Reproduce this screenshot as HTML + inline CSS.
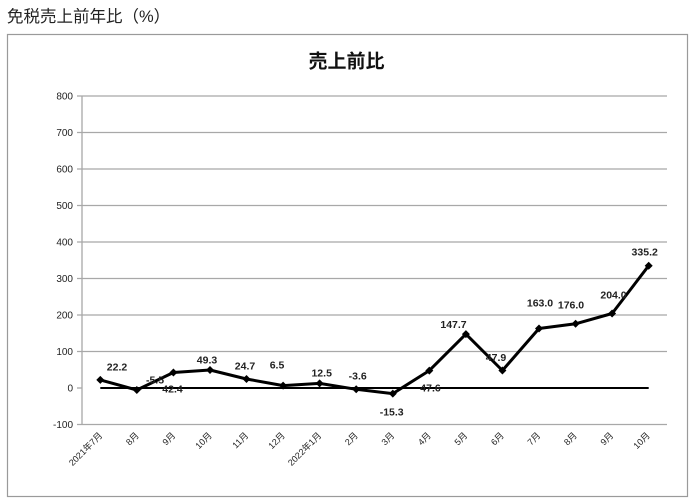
<!DOCTYPE html>
<html>
<head>
<meta charset="utf-8">
<style>
  html,body{margin:0;padding:0;background:#fff;}
  body{width:695px;height:501px;overflow:hidden;position:relative;}
  .hdr{position:absolute;left:7px;top:3px;font-family:"Liberation Sans","Noto Sans CJK JP",sans-serif;font-size:16.5px;color:#222;white-space:nowrap;}
  svg{position:absolute;left:0;top:0;}
</style>
</head>
<body>
<div class="hdr">免税売上前年比（%）</div>
<svg width="695" height="501" viewBox="0 0 695 501" xmlns="http://www.w3.org/2000/svg" font-family="'Liberation Sans','Noto Sans CJK JP',sans-serif">
  <rect x="7.5" y="34.5" width="680" height="462" fill="#fff" stroke="#9a9a9a" stroke-width="1.2"/>
  <text x="346.5" y="67.5" text-anchor="middle" font-size="19" font-weight="bold" fill="#111" font-family="'Liberation Sans','Noto Sans CJK JP',sans-serif">売上前比</text>

  <!-- gridlines -->
  <g stroke="#a8a8a8" stroke-width="1.3">
    <line x1="77" y1="96" x2="667" y2="96"/>
    <line x1="77" y1="132.5" x2="667" y2="132.5"/>
    <line x1="77" y1="169" x2="667" y2="169"/>
    <line x1="77" y1="205.5" x2="667" y2="205.5"/>
    <line x1="77" y1="242" x2="667" y2="242"/>
    <line x1="77" y1="278.5" x2="667" y2="278.5"/>
    <line x1="77" y1="315" x2="667" y2="315"/>
    <line x1="77" y1="351.5" x2="667" y2="351.5"/>
    <line x1="77" y1="388" x2="82" y2="388"/>
    <line x1="77" y1="424.5" x2="667" y2="424.5"/>
    <line x1="82" y1="96" x2="82" y2="424.5"/>
  </g>

  <!-- y labels -->
  <g font-size="10" fill="#222" text-anchor="end">
    <text x="73" y="99.5">800</text>
    <text x="73" y="136">700</text>
    <text x="73" y="172.5">600</text>
    <text x="73" y="209">500</text>
    <text x="73" y="245.5">400</text>
    <text x="73" y="282">300</text>
    <text x="73" y="318.5">200</text>
    <text x="73" y="355">100</text>
    <text x="73" y="391.5">0</text>
    <text x="73" y="428">-100</text>
  </g>

  <!-- zero series -->
  <line x1="100.3" y1="388" x2="648.7" y2="388" stroke="#000" stroke-width="2"/>

  <!-- main series -->
  <polyline fill="none" stroke="#000" stroke-width="3" stroke-linejoin="round"
    points="100.3,379.9 136.8,390 173.4,372.5 210,370 246.5,379 283.1,385.6 319.6,383.4 356.2,389.3 392.8,393.6 429.3,370.6 465.9,334.1 502.4,370.5 539,328.5 575.6,323.8 612.1,313.5 648.7,265.7"/>
  <g fill="#000">
    <polygon points="100.3,375.9 104.3,379.9 100.3,383.9 96.3,379.9"/>
    <polygon points="136.8,386 140.8,390 136.8,394 132.8,390"/>
    <polygon points="173.4,368.5 177.4,372.5 173.4,376.5 169.4,372.5"/>
    <polygon points="210,366 214,370 210,374 206,370"/>
    <polygon points="246.5,375 250.5,379 246.5,383 242.5,379"/>
    <polygon points="283.1,381.6 287.1,385.6 283.1,389.6 279.1,385.6"/>
    <polygon points="319.6,379.4 323.6,383.4 319.6,387.4 315.6,383.4"/>
    <polygon points="356.2,385.3 360.2,389.3 356.2,393.3 352.2,389.3"/>
    <polygon points="392.8,389.6 396.8,393.6 392.8,397.6 388.8,393.6"/>
    <polygon points="429.3,366.6 433.3,370.6 429.3,374.6 425.3,370.6"/>
    <polygon points="465.9,330.1 469.9,334.1 465.9,338.1 461.9,334.1"/>
    <polygon points="502.4,366.5 506.4,370.5 502.4,374.5 498.4,370.5"/>
    <polygon points="539,324.5 543,328.5 539,332.5 535,328.5"/>
    <polygon points="575.6,319.8 579.6,323.8 575.6,327.8 571.6,323.8"/>
    <polygon points="612.1,309.5 616.1,313.5 612.1,317.5 608.1,313.5"/>
    <polygon points="648.7,261.7 652.7,265.7 648.7,269.7 644.7,265.7"/>
  </g>

  <!-- data labels -->
  <g font-size="10.5" font-weight="bold" fill="#222" text-anchor="middle">
    <text x="117" y="370.7">22.2</text>
    <text x="155" y="383.7">-5.5</text>
    <text x="172.5" y="392.7">42.4</text>
    <text x="207" y="363.7">49.3</text>
    <text x="245" y="369.7">24.7</text>
    <text x="277" y="368.7">6.5</text>
    <text x="321.7" y="376.4">12.5</text>
    <text x="357.7" y="379.7">-3.6</text>
    <text x="391.7" y="415.4">-15.3</text>
    <text x="430.5" y="391.4">47.6</text>
    <text x="453.5" y="328">147.7</text>
    <text x="496" y="361">47.9</text>
    <text x="540" y="306.4">163.0</text>
    <text x="571" y="308.7">176.0</text>
    <text x="613.5" y="298.7">204.0</text>
    <text x="644.7" y="255.7">335.2</text>
  </g>

  <!-- x labels -->
  <g font-size="9" fill="#222" text-anchor="end">
    <text transform="translate(103,436) rotate(-45)">2021年7月</text>
    <text transform="translate(139.5,436) rotate(-45)">8月</text>
    <text transform="translate(176,436) rotate(-45)">9月</text>
    <text transform="translate(212.5,436) rotate(-45)">10月</text>
    <text transform="translate(249,436) rotate(-45)">11月</text>
    <text transform="translate(285.5,436) rotate(-45)">12月</text>
    <text transform="translate(322,436) rotate(-45)">2022年1月</text>
    <text transform="translate(358.5,436) rotate(-45)">2月</text>
    <text transform="translate(395,436) rotate(-45)">3月</text>
    <text transform="translate(431.5,436) rotate(-45)">4月</text>
    <text transform="translate(468,436) rotate(-45)">5月</text>
    <text transform="translate(504.5,436) rotate(-45)">6月</text>
    <text transform="translate(541,436) rotate(-45)">7月</text>
    <text transform="translate(577.5,436) rotate(-45)">8月</text>
    <text transform="translate(614,436) rotate(-45)">9月</text>
    <text transform="translate(650.5,436) rotate(-45)">10月</text>
  </g>
</svg>
</body>
</html>
